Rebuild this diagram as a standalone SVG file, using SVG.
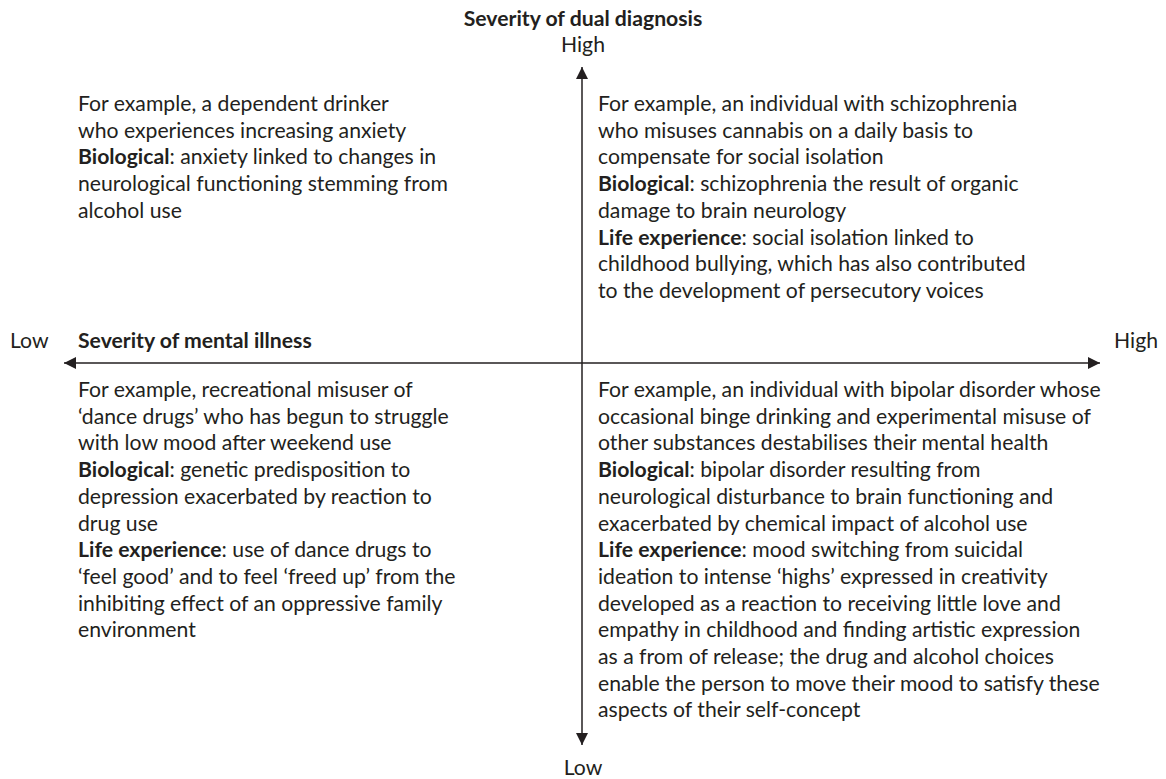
<svg xmlns="http://www.w3.org/2000/svg" width="1166" height="779" viewBox="0 0 1166 779">
  <defs>
    <marker id="arrow" viewBox="0 0 12 12" refX="12" refY="6" markerWidth="12" markerHeight="12" markerUnits="userSpaceOnUse" orient="auto">
      <path d="M0,0 L12,6 L0,12 Z" fill="#231f20"/>
    </marker>
    <style>
      text { font-family: Lato, "Open Sans", sans-serif; font-size: 21.2px; fill: #231f20; }
      .b { font-weight: bold; }
      .axis { stroke: #231f20; stroke-width: 1.5; fill: none; }
    </style>
  </defs>
  <rect width="1166" height="779" fill="#ffffff"/>

  <!-- axes -->
  <g id="connectors">
    <line class="axis" x1="582" y1="363" x2="582" y2="67" marker-end="url(#arrow)"/>
    <line class="axis" x1="582" y1="363" x2="582" y2="745" marker-end="url(#arrow)"/>
    <line class="axis" x1="582" y1="363" x2="64" y2="363" marker-end="url(#arrow)"/>
    <line class="axis" x1="582" y1="363" x2="1100" y2="363" marker-end="url(#arrow)"/>
  </g>

  <!-- axis labels -->
  <g id="axis-labels">
    <text class="b" x="583" y="26" text-anchor="middle">Severity of dual diagnosis</text>
    <text x="583" y="52" text-anchor="middle">High</text>
    <text x="583" y="775" text-anchor="middle">Low</text>
    <text x="10" y="348">Low</text>
    <text class="b" x="78" y="348">Severity of mental illness</text>
    <text x="1158" y="348" text-anchor="end">High</text>
  </g>

  <!-- low mental illness, high dual diagnosis -->
  <g id="quadrant-top-left">
    <text x="78" y="111">
      <tspan x="78" dy="0">For example, a dependent drinker</tspan>
      <tspan x="78" dy="26.7">who experiences increasing anxiety</tspan>
      <tspan x="78" dy="26.7"><tspan class="b">Biological</tspan>: anxiety linked to changes in</tspan>
      <tspan x="78" dy="26.7">neurological functioning stemming from</tspan>
      <tspan x="78" dy="26.7">alcohol use</tspan>
    </text>
  </g>

  <!-- high mental illness, high dual diagnosis -->
  <g id="quadrant-top-right">
    <text x="598" y="111">
      <tspan x="598" dy="0">For example, an individual with schizophrenia</tspan>
      <tspan x="598" dy="26.7">who misuses cannabis on a daily basis to</tspan>
      <tspan x="598" dy="26.7">compensate for social isolation</tspan>
      <tspan x="598" dy="26.7"><tspan class="b">Biological</tspan>: schizophrenia the result of organic</tspan>
      <tspan x="598" dy="26.7">damage to brain neurology</tspan>
      <tspan x="598" dy="26.7"><tspan class="b">Life experience</tspan>: social isolation linked to</tspan>
      <tspan x="598" dy="26.7">childhood bullying, which has also contributed</tspan>
      <tspan x="598" dy="26.7">to the development of persecutory voices</tspan>
    </text>
  </g>

  <!-- low mental illness, low dual diagnosis -->
  <g id="quadrant-bottom-left">
    <text x="78" y="397">
      <tspan x="78" dy="0">For example, recreational misuser of</tspan>
      <tspan x="78" dy="26.7">‘dance drugs’ who has begun to struggle</tspan>
      <tspan x="78" dy="26.7">with low mood after weekend use</tspan>
      <tspan x="78" dy="26.7"><tspan class="b">Biological</tspan>: genetic predisposition to</tspan>
      <tspan x="78" dy="26.7">depression exacerbated by reaction to</tspan>
      <tspan x="78" dy="26.7">drug use</tspan>
      <tspan x="78" dy="26.7"><tspan class="b">Life experience</tspan>: use of dance drugs to</tspan>
      <tspan x="78" dy="26.7">‘feel good’ and to feel ‘freed up’ from the</tspan>
      <tspan x="78" dy="26.7">inhibiting effect of an oppressive family</tspan>
      <tspan x="78" dy="26.7">environment</tspan>
    </text>
  </g>

  <!-- high mental illness, low dual diagnosis -->
  <g id="quadrant-bottom-right">
    <text x="598" y="397">
      <tspan x="598" dy="0">For example, an individual with bipolar disorder whose</tspan>
      <tspan x="598" dy="26.7">occasional binge drinking and experimental misuse of</tspan>
      <tspan x="598" dy="26.7">other substances destabilises their mental health</tspan>
      <tspan x="598" dy="26.7"><tspan class="b">Biological</tspan>: bipolar disorder resulting from</tspan>
      <tspan x="598" dy="26.7">neurological disturbance to brain functioning and</tspan>
      <tspan x="598" dy="26.7">exacerbated by chemical impact of alcohol use</tspan>
      <tspan x="598" dy="26.7"><tspan class="b">Life experience</tspan>: mood switching from suicidal</tspan>
      <tspan x="598" dy="26.7">ideation to intense ‘highs’ expressed in creativity</tspan>
      <tspan x="598" dy="26.7">developed as a reaction to receiving little love and</tspan>
      <tspan x="598" dy="26.7">empathy in childhood and finding artistic expression</tspan>
      <tspan x="598" dy="26.7">as a from of release; the drug and alcohol choices</tspan>
      <tspan x="598" dy="26.7">enable the person to move their mood to satisfy these</tspan>
      <tspan x="598" dy="26.7">aspects of their self-concept</tspan>
    </text>
  </g>
</svg>
